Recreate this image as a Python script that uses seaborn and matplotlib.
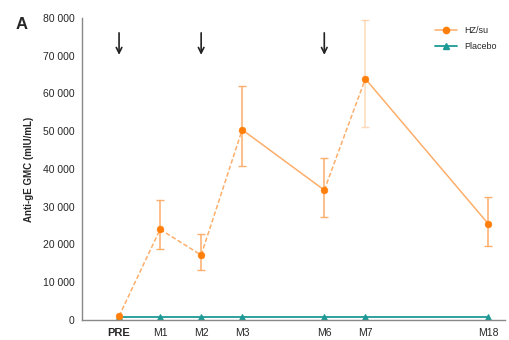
import matplotlib
matplotlib.use("Agg")
import matplotlib.pyplot as plt
import seaborn as sns
import pandas as pd
import numpy as np
from matplotlib.lines import Line2D

# ---- data ----
timepoints = ["PRE", "M1", "M2", "M3", "M6", "M7", "M18"]
slots = ["PRE", "M1", "M2", "M3", "", "M6", "M7", "", "", "M18"]  # tick slots on x axis
hzsu_gmc = [1000, 24000, 17200, 50400, 34400, 63900, 25400]
hzsu_low = [800, 18700, 13200, 40800, 27300, 51100, 19600]
hzsu_high = [1300, 31700, 22700, 62000, 42900, 79500, 32600]
placebo_gmc = [900, 900, 900, 900, 900, 900, 900]
dose_times = ["PRE", "M2", "M6"]
yticks = [0, 10000, 20000, 30000, 40000, 50000, 60000, 70000, 80000]

orange = "#FF7F0A"
orange_light = "#FDAE6B"
teal = "#1E9A96"

sns.set_style("white")
plt.rcParams["font.family"] = ["Liberation Sans", "DejaVu Sans"]

pos = {lab: i for i, lab in enumerate(slots) if lab}
df = pd.DataFrame({
    "time": timepoints,
    "x": [pos[t] for t in timepoints],
    "hzsu": hzsu_gmc,
    "low": hzsu_low,
    "high": hzsu_high,
    "placebo": placebo_gmc,
})

fig = plt.figure(figsize=(5.1, 3.4), dpi=100)
ax = fig.add_axes([0.161, 0.059, 0.829, 0.888])

# placebo
sns.lineplot(data=df, x="x", y="placebo", ax=ax, color=teal, marker="^",
             markersize=4.5, markeredgecolor=teal, linewidth=1.3, legend=False, zorder=2)

# HZ/su: dashed toward M1..M3 and M7, solid on the decline after M3 and M7
solid_after = {"M3", "M7"}
for i in range(len(df) - 1):
    seg = df.iloc[i:i + 2]
    solid = seg["time"].iloc[0] in solid_after
    sns.lineplot(data=seg, x="x", y="hzsu", ax=ax, color=orange_light, linewidth=1.1,
                 linestyle="-" if solid else (0, (3, 1.5)), legend=False, zorder=3)

yerr = np.array([df["hzsu"] - df["low"], df["high"] - df["hzsu"]])
for i in range(len(df)):
    if df["time"].iloc[i] == "PRE":
        continue
    a = 0.45 if df["time"].iloc[i] == "M7" else 1.0
    ax.errorbar(df["x"].iloc[i], df["hzsu"].iloc[i], yerr=yerr[:, i:i + 1],
                fmt="none", ecolor=orange_light, elinewidth=1.1, capsize=3, alpha=a, zorder=3)
sns.scatterplot(data=df, x="x", y="hzsu", ax=ax, color=orange, s=24,
                edgecolor=orange, zorder=4, legend=False)

handles = [Line2D([], [], color=orange_light, marker="o", markerfacecolor=orange,
                  markeredgecolor=orange, markersize=4.5, lw=1.1, label="HZ/su"),
           Line2D([], [], color=teal, marker="^", markersize=4.5, lw=1.3, label="Placebo")]
ax.legend(handles=handles, loc="upper right", frameon=False, fontsize=6.5,
          handlelength=2.4, bbox_to_anchor=(1.0, 1.0), labelspacing=0.8)

# dose arrows
for d in dose_times:
    ax.annotate("", xy=(pos[d], 69500), xytext=(pos[d], 76800),
                arrowprops=dict(arrowstyle="->", color="#222222", lw=1.2))

ax.set_xlim(-0.9, 9.4)
ax.set_ylim(0, 80000)
ax.set_xticks(range(len(slots)))
ax.set_xticklabels(slots, fontsize=7.5)
for t in ax.get_xticklabels():
    if t.get_text() == "PRE":
        t.set_fontweight("bold")
        t.set_fontsize(8)
ax.set_yticks(yticks)
ax.set_yticklabels([f"{v:,}".replace(",", " ") for v in yticks], fontsize=7.5)
ax.set_xlabel("")
ax.set_ylabel("Anti-gE GMC (mIU/mL)", fontsize=7, fontweight="bold", labelpad=6)
ax.tick_params(axis="both", length=3, width=0.8, color="#888888", direction="out", pad=2.5)
ax.tick_params(axis="x", pad=3)
for s in ["top", "right"]:
    ax.spines[s].set_visible(False)
for s in ["left", "bottom"]:
    ax.spines[s].set_color("#888888")
    ax.spines[s].set_linewidth(1.0)

fig.text(0.03, 0.915, "A", fontsize=12, fontweight="bold")

fig.savefig("out.png", dpi=100)
